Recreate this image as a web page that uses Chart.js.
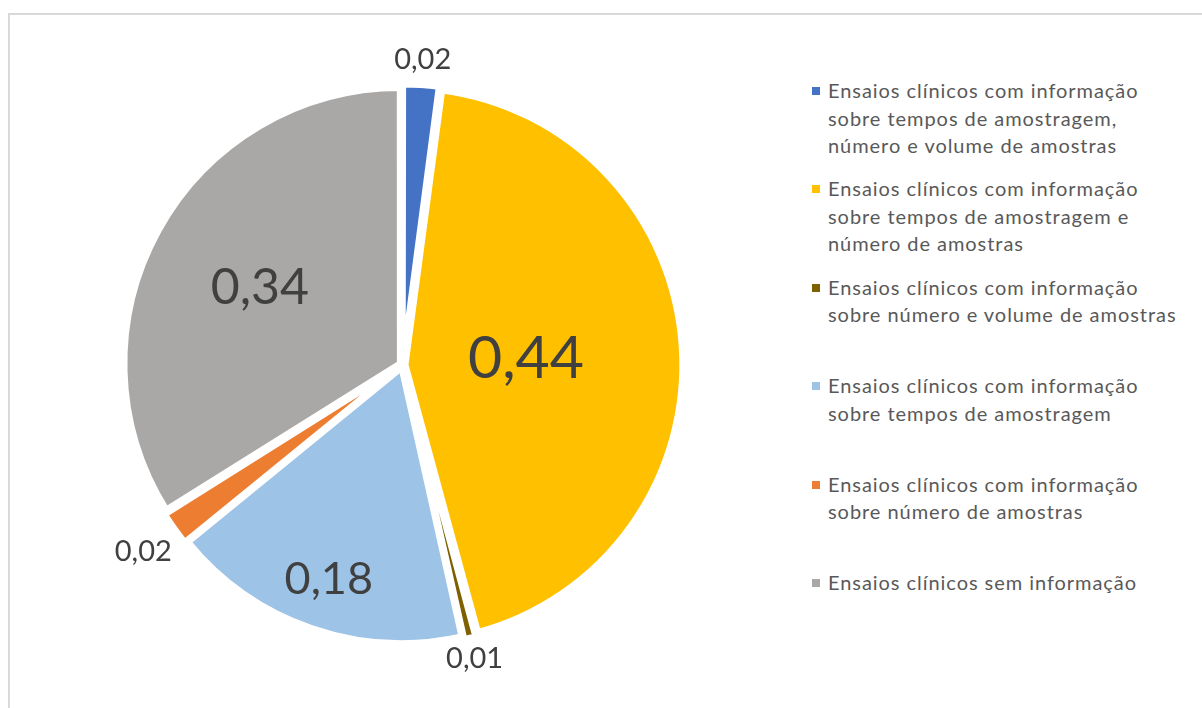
<!DOCTYPE html>
<html lang="pt">
<head>
<meta charset="UTF-8">
<title>Ensaios clínicos</title>
<script src="https://cdn.jsdelivr.net/npm/chart.js@4.4.1/dist/chart.umd.min.js"></script>
<style>
    html, body { margin: 0; padding: 0; background: #fff; overflow: hidden; }
    body { width: 1202px; height: 708px; position: relative; font-family: Lato, "Open Sans", sans-serif; }
    .frame { position: absolute; left: 8px; top: 13px; width: 1300px; height: 800px;
             border-top: 2px solid #d9d9d9; border-left: 2px solid #d9d9d9; }
    .chart-box { position: absolute; left: 0; top: 0; width: 805px; height: 708px; }
    .legend { position: absolute; left: 812px; top: 77px; }
    .legend-item { position: relative; height: 98.4px; padding-left: 16px;
                   font-size: 20px; letter-spacing: 0.95px; line-height: 27.5px;
                   color: #595959; white-space: nowrap; }
    .legend-item .box { position: absolute; left: 0; top: 10px; width: 8px; height: 8px; }
</style>
</head>
<body>
<div class="frame"></div>
<div class="chart-box"><canvas id="pieChart"></canvas></div>
<div class="legend" id="legend"></div>
<script>
    // categorias (quebradas em linhas como na legenda)
    var categories = [
        ['Ensaios clínicos com informação', 'sobre tempos de amostragem,', 'número e volume de amostras'],
        ['Ensaios clínicos com informação', 'sobre tempos de amostragem e', 'número de amostras'],
        ['Ensaios clínicos com informação', 'sobre número e volume de amostras'],
        ['Ensaios clínicos com informação', 'sobre tempos de amostragem'],
        ['Ensaios clínicos com informação', 'sobre número de amostras'],
        ['Ensaios clínicos sem informação']
    ]
    var values = [0.021, 0.437, 0.007, 0.176, 0.020, 0.339]
    var colors = ['#4472c4', '#ffc000', '#7f6000', '#9dc3e6', '#ed7d31', '#a9a8a6']

    // posição radial (fração do raio) e tamanho de cada rótulo
    var labelDist = [1.115, 0.45, 1.095, 0.82, 1.16, 0.593]
    var labelSize = [29, 59, 29, 45, 29, 50]

    function fmt(v) {
        return v.toFixed(2).replace('.', ',')
    }

    var valueLabels = {
        id: 'valueLabels',
        afterDatasetsDraw: function(chart) {
            var ctx = chart.ctx
            var meta = chart.getDatasetMeta(0)
            ctx.save()
            ctx.fillStyle = '#404040'
            ctx.textAlign = 'center'
            ctx.textBaseline = 'alphabetic'
            meta.data.forEach(function(arc, i) {
                var mid = (arc.startAngle + arc.endAngle) / 2
                var r = arc.outerRadius * labelDist[i]
                var x = arc.x + Math.cos(mid) * r
                var y = arc.y + Math.sin(mid) * r
                ctx.font = labelSize[i] + 'px Lato, "Open Sans", sans-serif'
                ctx.fillText(fmt(chart.data.datasets[0].data[i]), x, y + labelSize[i] * 0.36)
            })
            ctx.restore()
        }
    }

    var pieChart = new Chart(document.getElementById('pieChart'), {
        type: 'pie',
        data: {
            labels: categories,
            datasets: [{
                data: values,
                backgroundColor: colors,
                borderColor: '#ffffff',
                borderWidth: 6,
                hoverBorderWidth: 6,
                offset: 12,
                hoverOffset: 12
            }]
        },
        options: {
            responsive: true,
            maintainAspectRatio: false,
            animation: false,
            events: [],
            layout: { padding: { left: 118, right: 118, top: 81, bottom: 59 } },
            plugins: {
                legend: { display: false },
                tooltip: { enabled: false }
            }
        },
        plugins: [valueLabels]
    })

    // legenda em HTML a partir dos mesmos dados
    var legend = document.getElementById('legend')
    categories.forEach(function(lines, i) {
        var item = document.createElement('div')
        item.className = 'legend-item'
        var box = document.createElement('span')
        box.className = 'box'
        box.style.background = colors[i]
        item.appendChild(box)
        lines.forEach(function(line, j) {
            if (j > 0) item.appendChild(document.createElement('br'))
            item.appendChild(document.createTextNode(line))
        })
        legend.appendChild(item)
    })
</script>
</body>
</html>
